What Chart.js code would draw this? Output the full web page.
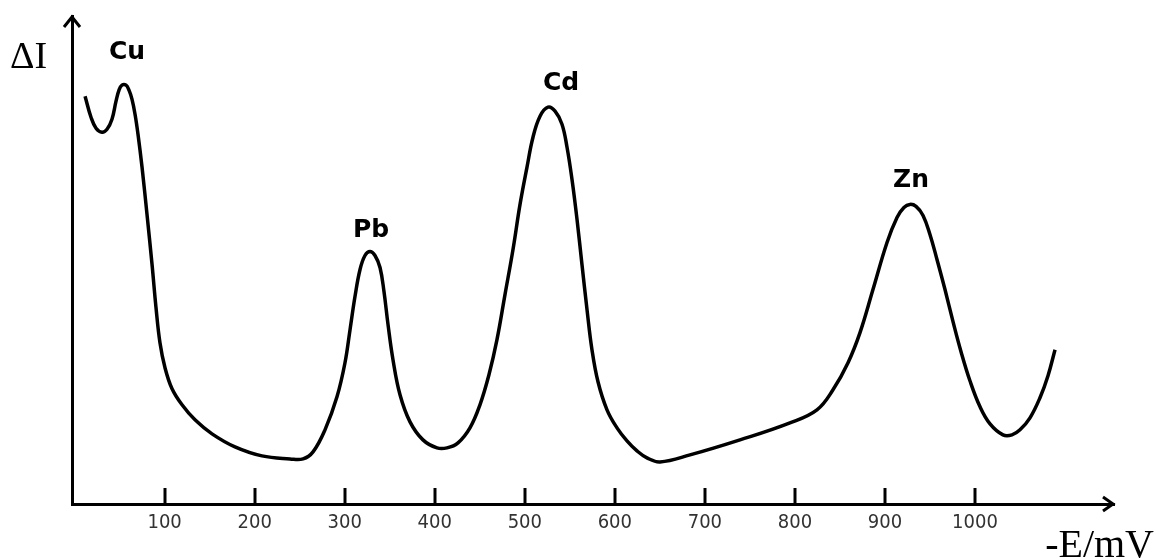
<!DOCTYPE html>
<html>
<head>
<meta charset="utf-8">
<script src="https://cdn.jsdelivr.net/npm/chart.js@4.4.0/dist/chart.umd.min.js"></script>
<style>
  html, body { margin: 0; padding: 0; background: #fff; }
  #wrap { width: 1156px; height: 558px; }
</style>
</head>
<body>
<div id="wrap"><canvas id="volt" width="1156" height="558"></canvas></div>
<script>
// stripping voltammogram, potential in mV (sign inverted), current in arb. units
const potential = [11.6, 18.2, 23.8, 30.4, 36.0, 41.5, 46.0, 49.3, 52.6, 57.1,
    60.4, 63.7, 67.1, 70.4, 74.9, 80.4, 86.0, 90.4, 94.8, 100.4,
    108.2, 119.3, 133.7, 152.6, 178.1, 208.1, 239.2, 253.7,
    264.8, 278.1, 291.4, 300.3, 305.9, 311.4, 317.0, 322.5, 328.1, 333.6,
    339.2, 343.6, 348.1, 353.6, 361.4, 372.5, 386.9, 402.5, 413.6, 425.8,
    439.1, 450.2, 460.2, 469.1, 478.0, 486.9, 494.7, 502.4, 509.1, 516.9,
    525.8, 533.6, 541.3, 546.9, 552.4, 558.0, 563.5, 569.1, 574.6, 581.3,
    591.3, 602.4, 613.5, 624.6, 635.7, 650.2,
    683.5, 739.0, 794.5, 824.5, 842.3, 859.0, 872.3, 886.7, 902.3, 913.4,
    921.1, 927.8, 934.5, 942.3, 950.0, 957.8, 966.7, 975.6, 984.5, 994.4,
    1005.6, 1016.7, 1031.1, 1041.1, 1050.0, 1061.1, 1072.2, 1081.1, 1088.9];
const current = [40.5, 38.4, 37.3, 36.9, 37.2, 38.2, 40.0, 41.1, 41.6, 41.6,
    41.1, 40.2, 38.7, 36.7, 33.4, 28.7, 23.7, 19.4, 15.9, 13.4,
    11.3, 9.7, 8.2, 6.8, 5.5, 4.6, 4.3, 4.3,
    5.0, 7.2, 10.5, 13.9, 17.2, 20.5, 23.2, 24.6, 25.0, 24.6,
    23.4, 21.0, 17.7, 14.2, 10.7, 8.0, 6.2, 5.4, 5.4, 5.9,
    7.4, 9.7, 12.7, 16.2, 20.7, 25.2, 29.7, 33.4, 36.4, 38.5,
    39.4, 39.0, 37.7, 35.4, 32.2, 28.2, 23.7, 19.2, 15.2, 12.0,
    9.2, 7.4, 6.1, 5.1, 4.4, 4.0,
    4.7, 6.2, 7.9, 9.2, 11.2, 13.9, 16.9, 21.2, 25.9, 28.4,
    29.4, 29.7, 29.5, 28.6, 26.7, 24.2, 21.2, 18.0, 15.0, 12.1,
    9.5, 7.8, 6.7, 6.7, 7.2, 8.4, 10.4, 12.6, 15.2];

const peakNames = ['Cu', 'Pb', 'Cd', 'Zn'];
const peakPotentials = [52.6, 328.1, 525.8, 927.8];

const xTicks = [100, 200, 300, 400, 500, 600, 700, 800, 900, 1000];

let points = [];
for (let i = 0; i < potential.length; i++) {
    points.push({ x: potential[i], y: current[i] });
}

// label nudges (px) so the names sit over the peaks
const peakShift = { Cu: [5, 33], Pb: [1, 21], Cd: [13, 24], Zn: [1, 24] };

const axesDecor = {
    id: 'axesDecor',
    afterDraw(chart) {
        const ctx = chart.ctx;
        const area = chart.chartArea;
        const xs = chart.scales.x;
        ctx.save();
        ctx.strokeStyle = '#000';
        ctx.lineWidth = 3;
        ctx.lineCap = 'butt';

        // inner tick marks
        for (let i = 0; i < xTicks.length; i++) {
            const px = Math.round(xs.getPixelForValue(xTicks[i]));
            ctx.beginPath();
            ctx.moveTo(px, area.bottom);
            ctx.lineTo(px, area.bottom - 16);
            ctx.stroke();
        }

        // arrow heads
        ctx.lineJoin = 'miter';
        ctx.beginPath();
        ctx.moveTo(area.left - 8, area.top + 11);
        ctx.lineTo(area.left, area.top + 1);
        ctx.lineTo(area.left + 8, area.top + 11);
        ctx.stroke();
        ctx.beginPath();
        ctx.moveTo(area.right - 11, area.bottom - 7);
        ctx.lineTo(area.right - 1, area.bottom);
        ctx.lineTo(area.right - 11, area.bottom + 7);
        ctx.stroke();

        // axis names
        ctx.fillStyle = '#000';
        ctx.font = '38px "Liberation Serif", "DejaVu Serif", serif';
        ctx.textBaseline = 'alphabetic';
        ctx.textAlign = 'left';
        ctx.fillText('\u0394I', 10, 68);
        ctx.font = '40px "Liberation Serif", "DejaVu Serif", serif';
        ctx.textAlign = 'right';
        ctx.fillText('-E/mV', 1154, 557);

        // element names over the peaks
        const meta = chart.getDatasetMeta(0);
        ctx.font = 'bold 25px "DejaVu Sans", sans-serif';
        ctx.textAlign = 'center';
        ctx.textBaseline = 'middle';
        for (let i = 0; i < peakNames.length; i++) {
            const idx = potential.indexOf(peakPotentials[i]);
            const pt = meta.data[idx];
            const s = peakShift[peakNames[i]];
            ctx.fillText(peakNames[i], pt.x + s[0], pt.y - s[1]);
        }
        ctx.restore();
    }
};

new Chart(document.getElementById('volt'), {
    type: 'line',
    data: {
        datasets: [{
            data: points,
            borderColor: '#000',
            borderWidth: 3.5,
            pointRadius: 0,
            fill: false,
            tension: 0.4
        }]
    },
    options: {
        responsive: false,
        animation: false,
        events: [],
        layout: { padding: { left: 72, top: 16, right: 42, bottom: 0 } },
        plugins: {
            legend: { display: false },
            tooltip: { enabled: false }
        },
        scales: {
            x: {
                type: 'linear',
                min: -2.9,
                max: 1154.4,
                afterFit(scale) { scale.height = 54; },
                afterBuildTicks(scale) {
                    scale.ticks = xTicks.map(v => ({ value: v }));
                },
                grid: { display: false, drawTicks: false },
                border: { display: true, color: '#000', width: 3 },
                ticks: {
                    color: '#333',
                    padding: 7,
                    maxRotation: 0,
                    autoSkip: false,
                    callback: v => String(v),
                    font: { family: '"DejaVu Sans Condensed", "Liberation Sans", sans-serif', size: 20 }
                }
            },
            y: {
                type: 'linear',
                min: -0.2,
                max: 48.5,
                afterFit(scale) { scale.width = 0; },
                grid: { display: false, drawTicks: false },
                border: { display: true, color: '#000', width: 3 },
                ticks: { display: false }
            }
        }
    },
    plugins: [axesDecor]
});
</script>
</body>
</html>
